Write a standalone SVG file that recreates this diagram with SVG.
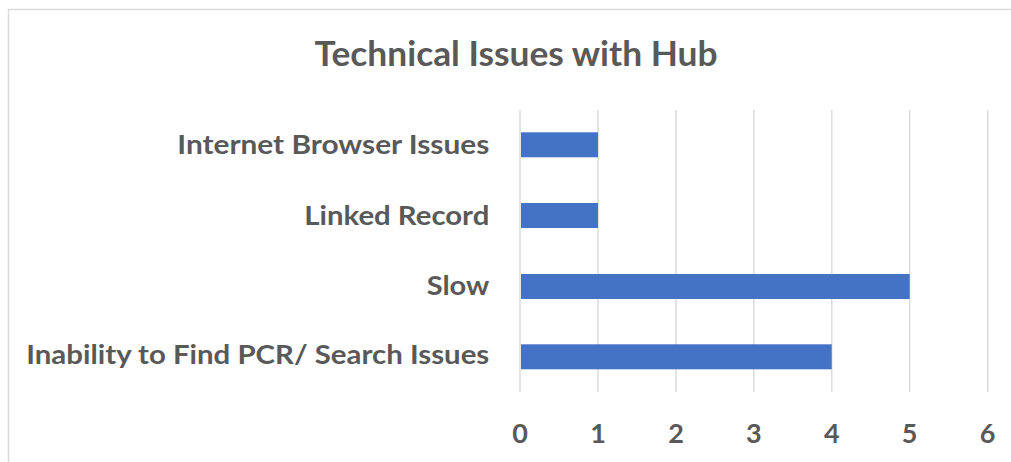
<svg xmlns="http://www.w3.org/2000/svg" width="1011" height="462" viewBox="0 0 1011 462">
<style>
.t{font-family:Lato,"Open Sans","Liberation Sans",sans-serif;font-weight:bold;fill:#595959}
.cat{font-size:26px;text-anchor:end}
.tick{font-size:27px;text-anchor:middle}
.grid{stroke:#d9d9d9;stroke-width:1.4}
.bar{fill:#4472c4}
</style>
<rect x="0" y="0" width="1011" height="462" fill="#ffffff"/>
<path d="M8.5 470 V9.5 H1020" fill="none" stroke="#d9d9d9" stroke-width="1.5"/>
<text id="title" class="t" x="516" y="65.7" font-size="34" text-anchor="middle" textLength="403" lengthAdjust="spacingAndGlyphs">Technical Issues with Hub</text>
<g id="gridlines">
<line class="grid" x1="520" y1="110" x2="520" y2="392"/>
<line class="grid" x1="598" y1="110" x2="598" y2="392"/>
<line class="grid" x1="676" y1="110" x2="676" y2="392"/>
<line class="grid" x1="753.8" y1="110" x2="753.8" y2="392"/>
<line class="grid" x1="831.8" y1="110" x2="831.8" y2="392"/>
<line class="grid" x1="909.7" y1="110" x2="909.7" y2="392"/>
<line class="grid" x1="987.7" y1="110" x2="987.7" y2="392"/>
</g>
<g id="bars">
<rect id="bar-internet" class="bar" x="521" y="132.3" width="77" height="25"/>
<rect id="bar-linked" class="bar" x="521" y="203" width="77" height="25"/>
<rect id="bar-slow" class="bar" x="521" y="274" width="388.7" height="25"/>
<rect id="bar-inability" class="bar" x="521" y="344.3" width="310.7" height="25"/>
</g>
<g id="categories">
<text class="t cat" x="489.3" y="154.3" textLength="312" lengthAdjust="spacingAndGlyphs">Internet Browser Issues</text>
<text class="t cat" x="489.3" y="225" textLength="185" lengthAdjust="spacingAndGlyphs">Linked Record</text>
<text class="t cat" x="489.3" y="295" textLength="62.6" lengthAdjust="spacingAndGlyphs">Slow</text>
<text class="t cat" x="489.3" y="364.3" textLength="463" lengthAdjust="spacingAndGlyphs">Inability to Find PCR/ Search Issues</text>
</g>
<g id="ticks">
<text class="t tick" x="520" y="442.7">0</text>
<text class="t tick" x="598" y="442.7">1</text>
<text class="t tick" x="676" y="442.7">2</text>
<text class="t tick" x="753.8" y="442.7">3</text>
<text class="t tick" x="831.8" y="442.7">4</text>
<text class="t tick" x="909.7" y="442.7">5</text>
<text class="t tick" x="987.7" y="442.7">6</text>
</g>
</svg>
